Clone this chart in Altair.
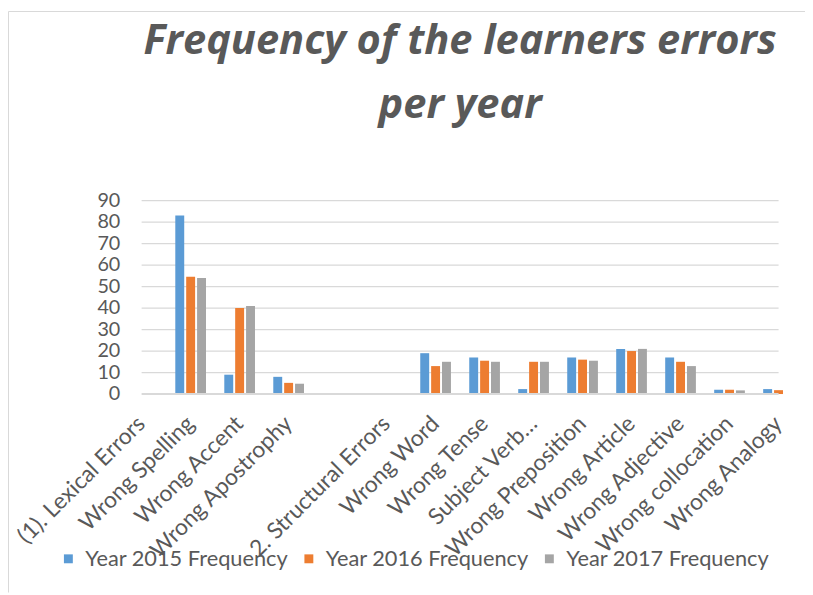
import altair as alt
import pandas as pd

categories = ["(1). Lexical Errors", "Wrong Spelling", "Wrong Accent", "Wrong Apostrophy", " ",
              "2. Structural Errors", "Wrong Word", "Wrong Tense", "Subject Verb…",
              "Wrong Preposition", "Wrong Article", "Wrong Adjective", "Wrong collocation",
              "Wrong Analogy"]
series = ["Year 2015 Frequency", "Year 2016 Frequency", "Year 2017 Frequency"]
y2015 = [None, 83, 9, 8, None, None, 19, 17, 2.3, 17, 21, 17, 2, 2.3]
y2016 = [None, 54.5, 40, 5.2, None, None, 13, 15.5, 15, 16, 20, 15, 2, 1.8]
y2017 = [None, 54, 41, 4.8, None, None, 15, 15, 15, 15.5, 21, 13, 1.7, None]
y_ticks = [0, 10, 20, 30, 40, 50, 60, 70, 80, 90]
colors = ["#5B9BD5", "#ED7D31", "#A5A5A5"]

rows = []
for s, vals in zip(series, [y2015, y2016, y2017]):
    for c, v in zip(categories, vals):
        if v is not None:
            rows.append({"category": c, "series": s, "value": v})
df = pd.DataFrame(rows)
grid_df = pd.DataFrame({"value": y_ticks[1:]})
base_df = pd.DataFrame({"value": [0]})

GRAY = "#595959"
FONT = "Lato"
W = 693
INSET = 24.7  # half a category step: where the drawn plot frame begins

yscale = alt.Scale(domain=[0, 90], nice=False)
yaxis = alt.Axis(title=None, values=y_ticks, labelFontSize=20, labelFont=FONT,
                 labelColor=GRAY, labelPadding=22, offset=-INSET, ticks=False,
                 tickSize=0, domain=False, grid=False)

grid = alt.Chart(grid_df).mark_rule(color="#d9d9d9", strokeWidth=1.3).encode(
    y=alt.Y("value:Q", scale=yscale, axis=yaxis),
    x=alt.value(INSET), x2=alt.value(W - INSET),
)

bars = alt.Chart(df).mark_bar().encode(
    x=alt.X("category:N", sort=categories,
            scale=alt.Scale(domain=categories, paddingInner=0, paddingOuter=0),
            axis=alt.Axis(title=None, labelAngle=315, labelAlign="right", labelBaseline="middle",
                          labelPadding=26, labelFontSize=23, labelFont=FONT, labelColor=GRAY,
                          labelLimit=400, labelOverlap=False, ticks=False, tickSize=0,
                          domain=False, grid=False)),
    xOffset=alt.XOffset("series:N", sort=series,
                        scale=alt.Scale(domain=series, paddingInner=0.18, paddingOuter=0.84)),
    y=alt.Y("value:Q", scale=yscale, axis=yaxis),
    color=alt.Color("series:N", sort=series, scale=alt.Scale(domain=series, range=colors),
                    legend=alt.Legend(title=None, orient="none", legendX=-60.3, legendY=351,
                                      direction="horizontal", symbolType="square",
                                      symbolSize=81, symbolStrokeWidth=0, labelFontSize=22,
                                      labelFont=FONT, labelColor=GRAY, columnPadding=9,
                                      labelOffset=6, labelLimit=400)),
)

baseline = alt.Chart(base_df).mark_rule(color="#d9d9d9", strokeWidth=2).encode(
    y=alt.Y("value:Q", scale=yscale, axis=yaxis),
    x=alt.value(INSET), x2=alt.value(W - INSET),
)

border = alt.Chart(alt.Data(values=[{}])).mark_rule(color="#d9d9d9", strokeWidth=1).encode(
    x=alt.value(-109.8), x2=alt.value(W + 2), y=alt.value(-191)
)
border2 = alt.Chart(alt.Data(values=[{}])).mark_rule(color="#d9d9d9", strokeWidth=1).encode(
    x=alt.value(-109.8), y=alt.value(-191), y2=alt.value(396)
)

chart = alt.layer(grid, bars, baseline, border, border2).properties(
    width=W, height=195.5,
    autosize=alt.AutoSizeParams(type="none"),
    padding={"left": 110.3, "top": 191.5, "right": 2, "bottom": 200},
    title=alt.Title(["Frequency of the learners errors", "per year"], font="Open Sans",
                    fontSize=42, fontStyle="italic", fontWeight="bold", color=GRAY,
                    anchor="middle", lineHeight=65, offset=0, dy=117),
).configure_view(stroke=None)

chart.save("out.html", embed_options={"renderer": "svg", "actions": False})
